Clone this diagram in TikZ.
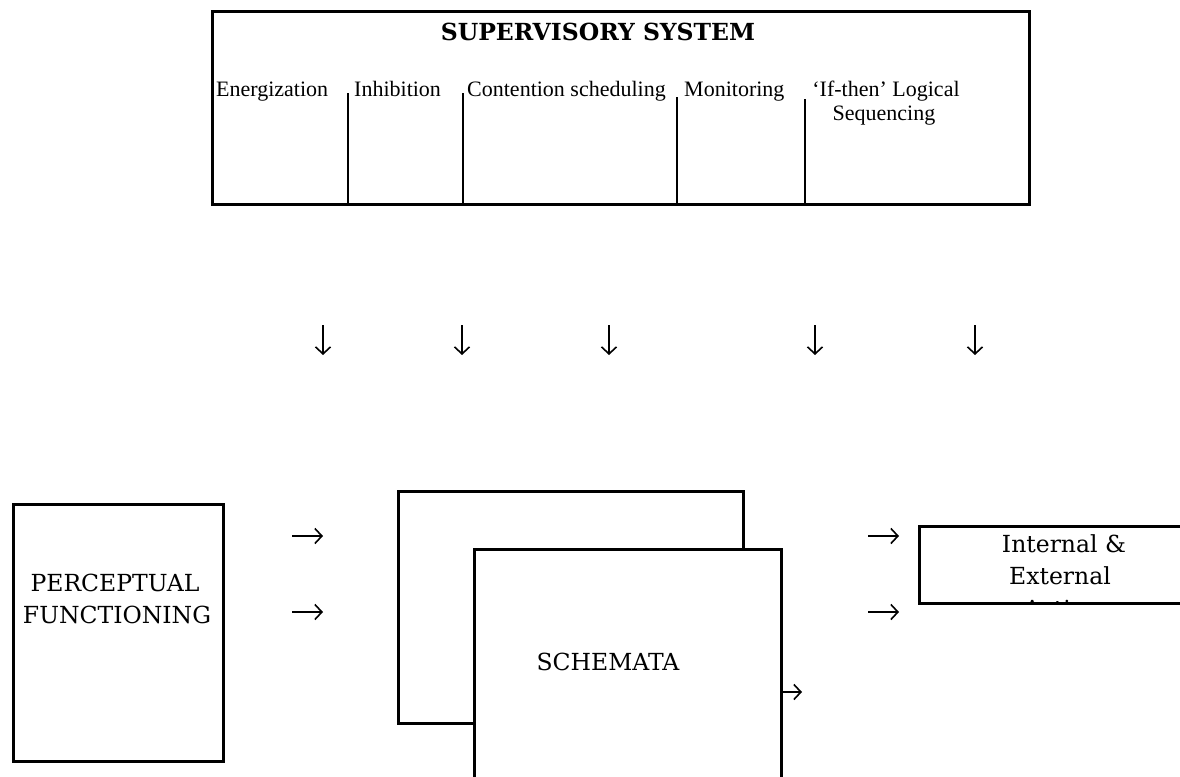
\documentclass[tikz,border=0pt]{standalone}
\usepackage{fontspec}
\setmainfont{Liberation Serif}
\newfontfamily\schfont{DejaVu Serif}
\usetikzlibrary{arrows.meta}
\begin{document}
\begin{tikzpicture}[x=1pt,y=-1pt,
  box/.style={draw,line width=2.8pt,inner sep=0pt},
  divider/.style={line width=2.8pt},
  glyph/.style={line width=1.6pt,-{Straight Barb[length=7pt,width=15pt,line width=1.6pt]}},
  lab/.style={inner sep=0pt,font=\fontsize{22}{26}\selectfont},
  big/.style={inner sep=0pt,font=\schfont\fontsize{23.5}{32}\selectfont},
  ttl/.style={inner sep=0pt,font=\schfont\bfseries\fontsize{23.5}{28}\selectfont},
]
\useasboundingbox (0,0) rectangle (1180,776);
\fill[white] (0,0) rectangle (1180,776);
\clip (0,0) rectangle (1180,776);

% Supervisory system box
\node[box,anchor=north west,minimum width=817pt,minimum height=193pt] (sup) at (211,10) {};
\node[ttl] (title) at (598,32) {SUPERVISORY SYSTEM};
\node[lab,anchor=base west] (energ) at (216,96) {Energization};
\node[lab,anchor=base west] (inhib) at (354,96) {Inhibition};
\node[lab,anchor=base west] (cont) at (467,96) {Contention scheduling};
\node[lab,anchor=base west] (monit) at (684,96) {Monitoring};
\node[lab,anchor=base] (ifthen) at (886,96) {‘If-then’ Logical};
\node[lab,anchor=base] (seq) at (884,120) {Sequencing};
\coordinate (v1) at (348,93);
\coordinate (v2) at (463,93);
\coordinate (v3) at (677,97);
\coordinate (v4) at (805,99);
\foreach \v in {v1,v2,v3,v4}{
  \draw[divider] (\v) -- (\v |- sup.south);
}

% down arrows
\foreach \x [count=\i] in {323,462,609,815,975}{
  \coordinate (d\i s) at (\x,325);
  \coordinate (d\i e) at (\x,355);
  \draw[glyph] (d\i s) -- (d\i e);
}

% perceptual functioning
\node[box,anchor=north west,minimum width=210pt,minimum height=257pt] (perc) at (12,503) {};
\node[big,anchor=base] (perc1) at (115,591) {PERCEPTUAL};
\node[big,anchor=base] (perc2) at (117,623) {FUNCTIONING};

% schemata
\node[box,anchor=north west,minimum width=345pt,minimum height=232pt] (sback) at (397,490) {};
\node[box,fill=white,anchor=north west,minimum width=307pt,minimum height=260pt] (sfront) at (473,548) {};
\node[big,anchor=base] (schem) at (608,670) {SCHEMATA};

% arrows
\coordinate (l1s) at (292,536); \coordinate (l1e) at (323,536);
\coordinate (l2s) at (292,612); \coordinate (l2e) at (323,612);
\draw[glyph] (l1s) -- (l1e);
\draw[glyph] (l2s) -- (l2e);
\coordinate (s1e) at (802,692);
\draw[glyph] (sfront.east |- s1e) -- (s1e);
\coordinate (r1s) at (868,536); \coordinate (r1e) at (899,536);
\coordinate (r2s) at (868,612); \coordinate (r2e) at (899,612);
\draw[glyph] (r1s) -- (r1e);
\draw[glyph] (r2s) -- (r2e);

% action box
\begin{scope}
  \clip (918,525) rectangle (1185,602);
  \node[big,anchor=base] (act1) at (1064,552) {Internal \&};
  \node[big,anchor=base] (act2) at (1060,584) {External};
  \node[big,anchor=base] (act3) at (1062,617) {Action};
\end{scope}
\node[box,anchor=north west,minimum width=280pt,minimum height=77pt] (act) at (918,525) {};
\end{tikzpicture}
\end{document}
